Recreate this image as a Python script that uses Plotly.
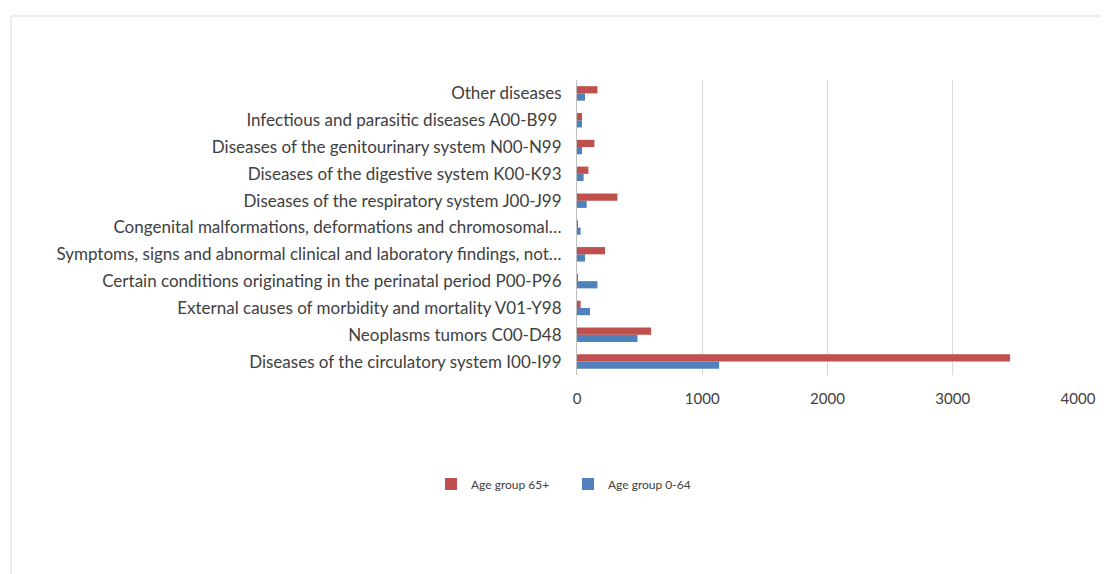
import plotly.graph_objects as go

categories = [
    "Diseases of the circulatory system I00-I99",
    "Neoplasms tumors C00-D48",
    "External causes of morbidity and mortality V01-Y98",
    "Certain conditions originating in the perinatal period P00-P96",
    "Symptoms, signs and abnormal clinical and laboratory findings, not…",
    "Congenital malformations, deformations and chromosomal…",
    "Diseases of the respiratory system J00-J99",
    "Diseases of the digestive system K00-K93",
    "Diseases of the genitourinary system N00-N99",
    "Infectious and parasitic diseases A00-B99 ",
    "Other diseases",
]
age_0_64 = [1135, 483, 104, 163, 64, 29, 77, 53, 40, 40, 64]
age_65_plus = [3458, 592, 29, 3, 224, 3, 323, 91, 139, 40, 163]
x_ticks = [0, 1000, 2000, 3000, 4000]

FONT = "Lato"
OFF = 8  # default page body margin
fig = go.Figure()
fig.add_trace(go.Bar(y=categories, x=age_0_64, orientation="h", name="Age group 0-64",
                     marker=dict(color="#4F81BD", line=dict(width=0))))
fig.add_trace(go.Bar(y=categories, x=age_65_plus, orientation="h", name="Age group 65+",
                     marker=dict(color="#C0504D", line=dict(width=0))))

W, H = 1109 - OFF, 574 - OFF
L, R, T, B = 577 - OFF, 31, 80 - OFF, 199
pw, ph = W - L - R, H - T - B


def px(x):
    return (x - OFF - L) / pw


def py(y):
    return (H - B - (y - OFF)) / ph


fig.update_layout(
    width=W, height=H,
    margin=dict(l=L, r=R, t=T, b=B),
    paper_bgcolor="white", plot_bgcolor="white",
    barmode="group", bargap=0.46, bargroupgap=0,
    font=dict(family=FONT, color="#404040"),
    showlegend=True,
    legend=dict(orientation="h", traceorder="reversed", x=px(445 - 14), xanchor="left",
                y=py(484), yanchor="middle", entrywidth=92, entrywidthmode="pixels",
                font=dict(size=12, color="#404040"), itemwidth=30, itemsizing="constant"),
    xaxis=dict(range=[0, 4000], tickvals=x_ticks, showgrid=True, gridcolor="#d9d9d9",
               gridwidth=1, zeroline=False, showline=False, ticks="",
               ticklabelstandoff=13,
               tickfont=dict(size=15, color="#404040"), fixedrange=True),
    yaxis=dict(categoryorder="array", categoryarray=categories, showgrid=False,
               showline=True, linecolor="#bfbfbf", linewidth=1, ticks="",
               ticklabelstandoff=11,
               tickfont=dict(size=17, color="#404040"), fixedrange=True),
    shapes=[dict(type="rect", xref="paper", yref="paper",
                 x0=px(11), x1=px(1130),
                 y0=py(600), y1=py(16),
                 line=dict(color="#d9d9d9", width=1), fillcolor="rgba(0,0,0,0)", layer="below")],
)
fig.write_html("out.html")
